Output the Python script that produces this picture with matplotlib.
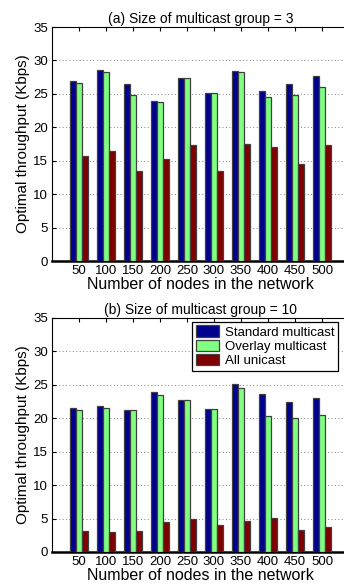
import matplotlib
matplotlib.use("Agg")
import matplotlib.pyplot as plt
import numpy as np

plt.rcParams["font.family"] = ["Liberation Sans", "DejaVu Sans"]

nodes = [50, 100, 150, 200, 250, 300, 350, 400, 450, 500]
series_names = ["Standard multicast", "Overlay multicast", "All unicast"]

# group size = 3
std_g3 = [26.9, 28.6, 26.4, 23.9, 27.4, 25.1, 28.4, 25.4, 26.4, 27.6]
ovl_g3 = [26.6, 28.2, 24.8, 23.8, 27.4, 25.1, 28.2, 24.5, 24.9, 26.0]
uni_g3 = [15.7, 16.4, 13.5, 15.3, 17.3, 13.4, 17.5, 17.1, 14.5, 17.3]

# group size = 10
std_g10 = [21.5, 21.8, 21.3, 23.9, 22.7, 21.4, 25.2, 23.6, 22.5, 23.0]
ovl_g10 = [21.2, 21.5, 21.3, 23.5, 22.7, 21.4, 24.6, 20.4, 20.0, 20.5]
uni_g10 = [3.1, 3.0, 3.2, 4.5, 5.0, 4.1, 4.7, 5.1, 3.3, 3.7]

colors = ["#00008f", "#80ff80", "#800000"]
yticks = [0, 5, 10, 15, 20, 25, 30, 35]


def draw_panel(ax, values, title, legend=False):
    x = np.arange(1, len(nodes) + 1)
    width = 0.22
    for k, (vals, color, name) in enumerate(zip(values, colors, series_names)):
        ax.bar(x + (k - 1) * width, vals, width=width, color=color,
               edgecolor="#404040", linewidth=0.9, label=name, zorder=3)
    ax.set_xlim(0, 11)
    ax.set_ylim(0, 35)
    ax.set_xticks(x)
    ax.set_xticklabels([str(n) for n in nodes], fontsize=9.5)
    ax.set_yticks(yticks)
    ax.set_yticklabels([str(t) for t in yticks], fontsize=9.5)
    ax.tick_params(direction="in", length=3, top=True, right=False, pad=3)
    ax.yaxis.grid(True, linestyle=(0, (1, 2.5)), color="#808080", linewidth=0.7)
    ax.set_axisbelow(True)
    ax.spines["bottom"].set_linewidth(1.8)
    ax.spines["left"].set_linewidth(0.8)
    ax.spines["top"].set_linewidth(0.8)
    ax.set_xlabel("Number of nodes in the network", fontsize=11.5, labelpad=0)
    ax.set_ylabel("Optimal throughput (Kbps)", fontsize=11, labelpad=2)
    ax.set_title(title, fontsize=10, pad=3)
    if legend:
        leg = ax.legend(loc="upper left", bbox_to_anchor=(0.471, 0.985),
                        fontsize=9.5, handlelength=1.75, handleheight=0.95,
                        handletextpad=0.45, borderpad=0.3, labelspacing=0.08,
                        borderaxespad=0, fancybox=False, framealpha=1)
        leg.get_frame().set_edgecolor("black")
        leg.get_frame().set_linewidth(0.9)


fig = plt.figure(figsize=(3.44, 5.85), dpi=100)
W, H = 344, 585
ax_a = fig.add_axes([52 / W, 1 - 261 / H, 297 / W, 234 / H])
ax_b = fig.add_axes([52 / W, 1 - 552 / H, 297 / W, 234 / H])

draw_panel(ax_a, [std_g3, ovl_g3, uni_g3], "(a) Size of multicast group = 3")
draw_panel(ax_b, [std_g10, ovl_g10, uni_g10], "(b) Size of multicast group = 10",
           legend=True)

fig.savefig("out.png", dpi=100)
